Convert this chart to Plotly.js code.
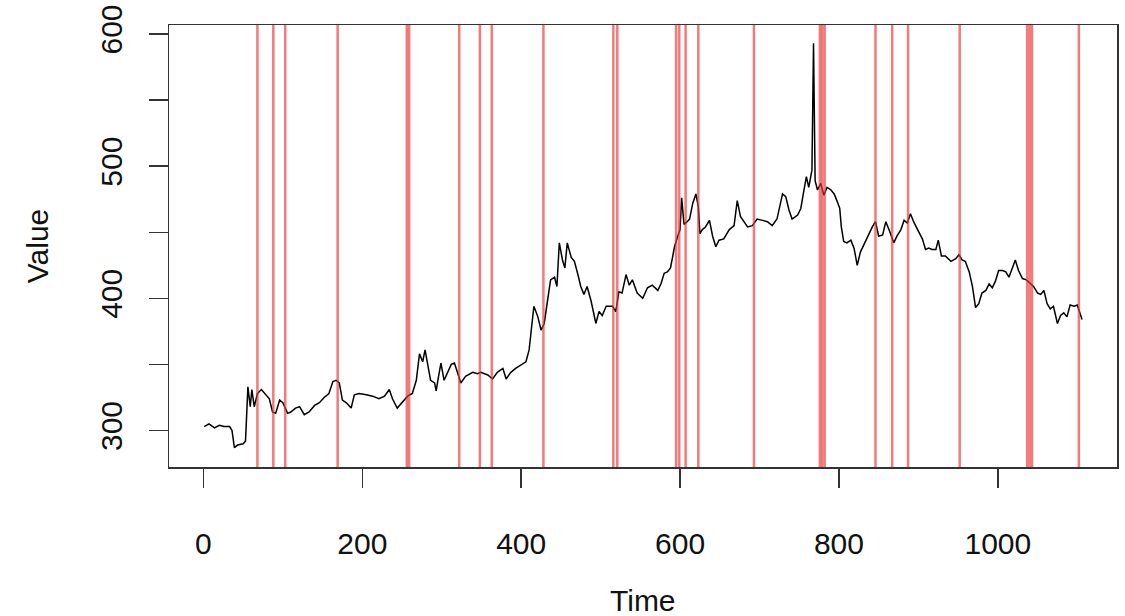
<!DOCTYPE html>
<html>
<head>
<meta charset="utf-8">
<script src="https://cdn.plot.ly/plotly-3.0.1.min.js"></script>
<style>html,body{margin:0;padding:0;background:#fff;}#chart{width:1125px;height:616px;}</style>
</head>
<body>
<div id="chart"></div>
<script>
// Time index of sampled readings
const timeIdx = [1,7,14,20,26,33,36,39,43,50,53,55,56,59,61,64,68,73,79,83,87,91,96,100,106,110,116,121,127,133,140,146,152,158,163,167,171,175,180,186,190,196,205,213,221,228,234,238,244,251,257,263,268,272,276,279,282,286,291,293,296,299,303,307,312,316,320,324,330,339,345,349,358,364,370,377,381,387,393,400,406,410,412,416,421,425,429,433,437,442,445,448,452,455,458,463,467,471,475,479,483,488,491,494,498,502,507,511,515,519,523,527,532,536,540,546,553,559,565,572,576,580,584,588,593,597,600,602,605,609,612,616,620,623,625,628,632,637,641,645,649,655,662,668,672,676,681,685,691,697,704,710,716,722,729,733,737,741,748,752,756,759,762,766,768,770,773,777,781,785,790,794,798,801,803,806,810,815,819,823,827,830,836,842,846,850,855,859,863,867,869,873,878,882,886,890,894,899,905,909,913,917,922,925,929,934,941,947,951,955,959,964,968,972,976,980,985,989,993,997,1001,1006,1010,1014,1018,1022,1026,1031,1036,1041,1045,1050,1054,1058,1062,1066,1070,1075,1079,1083,1087,1091,1096,1100,1103,1106];
// Series values
const values = [303,305,302,304,303,303,300,287,289,290,292,313,333,318,331,318,328,331,327,324,314,313,323,321,313,314,317,318,312,314,319,321,325,328,337,338,336,323,321,317,327,328,327,326,324,326,331,324,317,322,326,328,338,358,352,361,350,338,336,330,341,351,338,344,350,351,344,336,341,344,343,344,342,339,344,347,339,344,347,350,352,361,374,394,386,376,381,399,414,416,409,442,429,423,442,431,428,419,409,403,409,398,389,381,390,387,394,394,394,390,405,404,418,410,414,404,400,408,410,406,411,419,420,423,439,447,452,476,456,458,460,472,479,469,449,452,454,459,447,439,444,445,452,455,474,462,458,454,455,460,459,458,455,460,479,477,467,460,463,468,482,492,484,497,593,489,482,487,478,484,482,479,473,468,454,443,442,444,438,425,435,439,446,454,458,447,448,458,452,445,442,447,452,459,457,464,458,452,445,437,438,437,437,444,432,432,428,430,433,429,428,420,409,393,396,404,406,411,408,413,421,421,420,416,423,429,421,415,414,411,409,404,403,406,396,392,394,381,387,389,386,395,394,395,389,384];
// Positions of the marked change points (red vertical lines)
const changePoints = [68,88,103,169,256,259,322,348,363,428,516,521,595,599,607,623,693,776,779,782,846,867,887,952,1037,1040,1043,1102];
// Axis ticks
const xTicks = [0,200,400,600,800,1000];
const yTicks = [300,350,400,450,500,550,600];
const yTickText = ['300','','400','','500','','600'];

const FONT = 'Liberation Sans, Arial, Helvetica, sans-serif';

const shapes = changePoints.map(cp => ({
  type: 'line', xref: 'x', yref: 'paper', x0: cp, x1: cp, y0: 0, y1: 1,
  line: {color: 'rgba(235,50,50,0.65)', width: 2.5}, layer: 'above'
}));

const trace = {
  x: timeIdx, y: values, type: 'scatter', mode: 'lines',
  line: {color: '#000', width: 1.5}, hoverinfo: 'skip'
};

const layout = {
  width: 1125, height: 616,
  margin: {l: 169, r: 8, t: 25, b: 149, pad: 0},
  paper_bgcolor: '#fff', plot_bgcolor: '#fff',
  showlegend: false,
  font: {family: FONT, size: 30, color: '#000'},
  xaxis: {
    range: [-43.3, 1150], tickmode: 'array', tickvals: xTicks,
    ticks: 'outside', ticklen: 19, tickwidth: 1.5, tickcolor: '#333',
    showline: true, mirror: true, linecolor: '#333', linewidth: 1.5,
    showgrid: false, zeroline: false,
    tickfont: {family: FONT, size: 30, color: '#111'},
    ticklabelstandoff: 30
  },
  yaxis: {
    range: [272.4, 606.8], tickmode: 'array', tickvals: yTicks, ticktext: yTickText,
    ticks: 'outside', ticklen: 19, tickwidth: 1.5, tickcolor: '#333',
    showline: true, mirror: true, linecolor: '#333', linewidth: 1.5,
    showgrid: false, zeroline: false, tickangle: -90,
    tickfont: {family: FONT, size: 30, color: '#111'},
    ticklabelstandoff: 15
  },
  shapes: shapes,
  annotations: [
    {text: 'Time', xref: 'paper', yref: 'paper', x: 0.5, y: -0.301, xanchor: 'center', yanchor: 'middle', showarrow: false, font: {family: FONT, size: 30, color: '#111'}},
    {text: 'Value', xref: 'paper', yref: 'paper', x: -0.139, y: 0.5, xanchor: 'center', yanchor: 'middle', textangle: -90, showarrow: false, font: {family: FONT, size: 30, color: '#111'}}
  ]
};

Plotly.newPlot('chart', [trace], layout, {displayModeBar: false, staticPlot: true});
</script>
</body>
</html>
